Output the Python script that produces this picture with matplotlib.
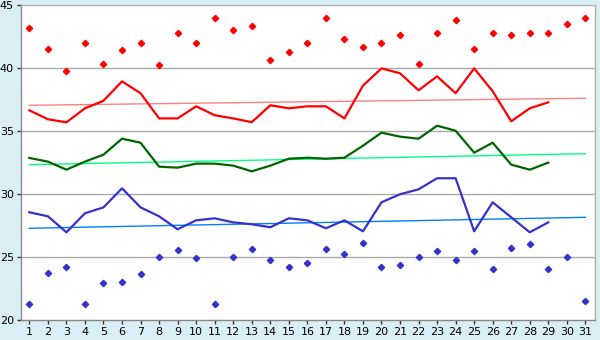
import matplotlib
matplotlib.use("Agg")
import matplotlib.pyplot as plt

days = list(range(1, 32))
line_days = list(range(1, 30))

red_points = [43.2, 41.5, 39.8, 42.0, 40.3, 41.4, 42.0, 40.2, 42.75, 42.0,
              44.0, 43.0, 43.3, 40.6, 41.3, 42.0, 44.0, 42.3, 41.7, 42.0,
              42.6, 40.3, 42.8, 43.8, 41.5, 42.8, 42.6, 42.8, 42.8, 43.5, 44.0]
red_line = [36.64, 35.93, 35.69, 36.8, 37.4, 38.94, 38.0, 36.0, 36.0, 36.96,
            36.25, 36.0, 35.7, 37.04, 36.8, 36.96, 36.96, 36.0, 38.6, 39.97,
            39.58, 38.23, 39.34, 38.0, 39.97, 38.15, 35.77, 36.8, 37.28]
red_trend = [37.04, 37.6]

green_line = [32.86, 32.57, 31.93, 32.57, 33.12, 34.39, 34.07, 32.17, 32.09, 32.41,
              32.41, 32.25, 31.8, 32.25, 32.8, 32.88, 32.8, 32.88, 33.83, 34.87,
              34.55, 34.39, 35.42, 35.02, 33.28, 34.07, 32.33, 31.93, 32.49]
green_trend = [32.33, 33.2]

blue_line = [28.55, 28.23, 26.96, 28.47, 28.94, 30.45, 28.94, 28.23, 27.2, 27.91,
             28.07, 27.75, 27.6, 27.36, 28.07, 27.91, 27.28, 27.91, 27.04, 29.34,
             29.98, 30.37, 31.25, 31.25, 27.04, 29.34, 28.15, 26.96, 27.75]
blue_trend = [27.28, 28.15]
blue_points = [21.25, 23.7, 24.18, 21.3, 22.9, 22.99, 23.62, 24.98, 25.53, 24.9,
               21.3, 25.0, 25.6, 24.74, 24.18, 24.5, 25.6, 25.21, 26.08, 24.18,
               24.34, 25.0, 25.45, 24.74, 25.45, 24.02, 25.69, 26.0, 24.02, 25.0, 21.48]

y_ticks = [20, 25, 30, 35, 40, 45]

bg = "#daeef5"
fig = plt.figure(figsize=(6, 3.4), dpi=100, facecolor=bg)
ax = fig.add_axes([21/600, 1-320/340, (595-21)/600, (320-5)/340])
ax.set_facecolor("white")

for y in y_ticks[1:-1]:
    ax.axhline(y, color="#aaaaaa", lw=1, zorder=0)

trend_x = [days[0], days[-1]]
ax.plot(trend_x, red_trend, color="#ff8080", lw=1, zorder=1)
ax.plot(trend_x, green_trend, color="#00ff80", lw=1, zorder=1)
ax.plot(trend_x, blue_trend, color="#0080ff", lw=1, zorder=1)

ax.plot(line_days, red_line, color="#ff0000", lw=1.6, zorder=2)
ax.plot(line_days, green_line, color="#006400", lw=1.6, zorder=2)
ax.plot(line_days, blue_line, color="#3333cc", lw=1.6, zorder=2)

ax.plot(days, red_points, ls="none", marker="D", ms=3.2, color="#ff0000", zorder=3)
ax.plot(days, blue_points, ls="none", marker="D", ms=3.2, color="#3333cc", zorder=3)

ax.set_xlim(0.55, 31.52)
ax.set_ylim(20, 45)
ax.set_xticks(days)
ax.set_xticklabels([str(d) for d in days])
ax.set_yticks(y_ticks)
ax.set_yticklabels([str(t) for t in y_ticks])
ax.tick_params(axis="both", labelsize=8, length=3, width=1, color="#333333", pad=2)

for side in ["top", "right"]:
    ax.spines[side].set_color("#b0b0b0")
for side in ["left", "bottom"]:
    ax.spines[side].set_color("#888888")
for s in ax.spines.values():
    s.set_linewidth(1)

fig.savefig("out.png", dpi=100, facecolor=bg)
